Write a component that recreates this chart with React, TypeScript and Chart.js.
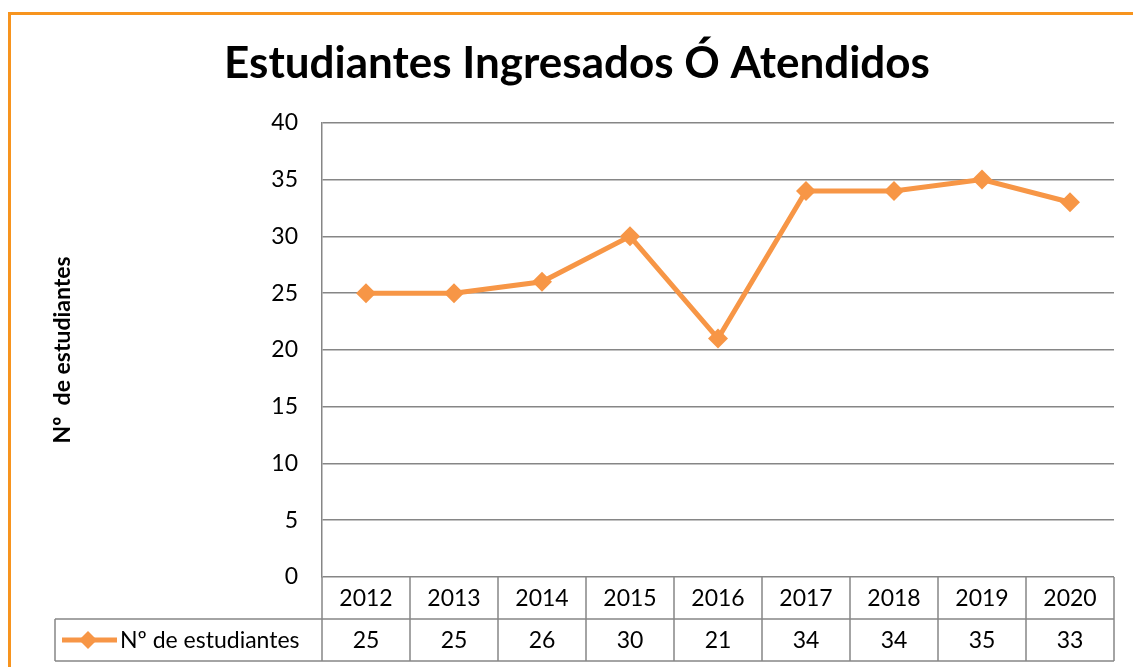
import React, { useEffect, useRef } from "react";
import { Chart, registerables } from "chart.js";

Chart.register(...registerables);

const categories = ["2012", "2013", "2014", "2015", "2016", "2017", "2018", "2019", "2020"];
const seriesLabel = "Nº de estudiantes";
const values = [25, 25, 26, 30, 21, 34, 34, 35, 33];
const chartTitle = "Estudiantes Ingresados Ó Atendidos";
const yAxisTitle = "Nº  de estudiantes";

const FONT = "Lato, 'Open Sans', sans-serif";
const ORANGE = "#F79646";
const FRAME = "#F7941E";
const GRID = "#868686";
const TEXT_SIZE = 23;

const framePlugin = {
  id: "frame",
  beforeDraw(chart: any) {
    const ctx = chart.ctx;
    ctx.save();
    ctx.fillStyle = "#ffffff";
    ctx.fillRect(0, 0, chart.width, chart.height);
    ctx.fillStyle = FRAME;
    ctx.fillRect(8, 12, 3, chart.height);
    ctx.fillRect(8, 12, chart.width, 3);
    ctx.restore();
  },
};

const tablePlugin = {
  id: "dataTable",
  afterDraw(chart: any) {
    const ctx = chart.ctx;
    const xs = chart.scales.x;
    const area = chart.chartArea;
    const labels = chart.data.labels as string[];
    const data = chart.data.datasets[0].data as number[];
    const n = labels.length;
    const colW = (area.right - area.left) / n;
    const rowH = 42;
    const top = area.bottom;
    const mid = top + rowH;
    const bot = mid + rowH;
    const legendLeft = 55;

    ctx.save();
    ctx.strokeStyle = GRID;
    ctx.lineWidth = 1.5;
    ctx.beginPath();
    ctx.moveTo(legendLeft, mid);
    ctx.lineTo(area.right, mid);
    ctx.moveTo(legendLeft, bot);
    ctx.lineTo(area.right, bot);
    ctx.moveTo(legendLeft, mid);
    ctx.lineTo(legendLeft, bot);
    for (let i = 0; i <= n; i++) {
      const x = area.left + i * colW;
      ctx.moveTo(x, top);
      ctx.lineTo(x, bot);
    }
    ctx.stroke();

    ctx.fillStyle = "#000";
    ctx.font = `${TEXT_SIZE}px ${FONT}`;
    ctx.textAlign = "center";
    ctx.textBaseline = "middle";
    for (let i = 0; i < n; i++) {
      const cx = xs.getPixelForValue(i);
      ctx.fillText(labels[i], cx, top + rowH / 2 + 1);
      ctx.fillText(String(data[i]), cx, mid + rowH / 2 + 1);
    }

    // legend key
    const ly = mid + rowH / 2;
    ctx.strokeStyle = ORANGE;
    ctx.lineWidth = 5;
    ctx.beginPath();
    ctx.moveTo(62, ly);
    ctx.lineTo(117, ly);
    ctx.stroke();
    ctx.fillStyle = ORANGE;
    ctx.beginPath();
    ctx.moveTo(88, ly - 9);
    ctx.lineTo(97, ly);
    ctx.lineTo(88, ly + 9);
    ctx.lineTo(79, ly);
    ctx.closePath();
    ctx.fill();
    ctx.fillStyle = "#000";
    ctx.textAlign = "left";
    ctx.fillText(chart.data.datasets[0].label, 120, ly + 1);
    ctx.restore();
  },
};

export default function App() {
  const ref = useRef<HTMLCanvasElement | null>(null);
  useEffect(() => {
    if (!ref.current) return;
    const chart = new Chart(ref.current, {
      type: "line",
      data: {
        labels: categories,
        datasets: [
          {
            label: seriesLabel,
            data: values,
            borderColor: ORANGE,
            backgroundColor: ORANGE,
            borderWidth: 5,
            pointStyle: "rectRot",
            pointRadius: 10,
            pointBorderWidth: 0,
            pointBackgroundColor: ORANGE,
            tension: 0,
          },
        ],
      },
      options: {
        animation: false,
        responsive: false,
        maintainAspectRatio: false,
        layout: { padding: { top: 0, left: 40, right: 19, bottom: 6 } },
        plugins: {
          legend: { display: false },
          tooltip: { enabled: false },
          title: {
            display: true,
            text: chartTitle,
            color: "#000",
            font: { family: FONT, size: 44, weight: "bold" },
            padding: { top: 37, bottom: 33 },
          },
        },
        scales: {
          x: {
            type: "category",
            offset: true,
            grid: { display: false },
            border: { display: false },
            ticks: { display: false },
            afterFit(s: any) {
              s.height = 84;
            },
          },
          y: {
            min: 0,
            max: 40,
            ticks: {
              stepSize: 5,
              color: "#000",
              padding: 24,
              font: { family: FONT, size: TEXT_SIZE },
            },
            grid: { color: GRID, lineWidth: 1.5, drawTicks: false },
            border: { display: true, color: GRID, width: 1.5 },
            title: {
              display: true,
              text: yAxisTitle,
              color: "#000",
              font: { family: FONT, size: 23, weight: "bold" },
              padding: { top: 9, bottom: 0 },
            },
            afterFit(s: any) {
              s.width = 282;
            },
          },
        },
      },
      plugins: [framePlugin, tablePlugin],
    });
    return () => chart.destroy();
  }, []);
  return (
    <div style={{ position: "fixed", left: 0, top: 0, width: 1133, height: 667 }}>
      <canvas ref={ref} width={1133} height={667} style={{ display: "block" }} />
    </div>
  );
}
